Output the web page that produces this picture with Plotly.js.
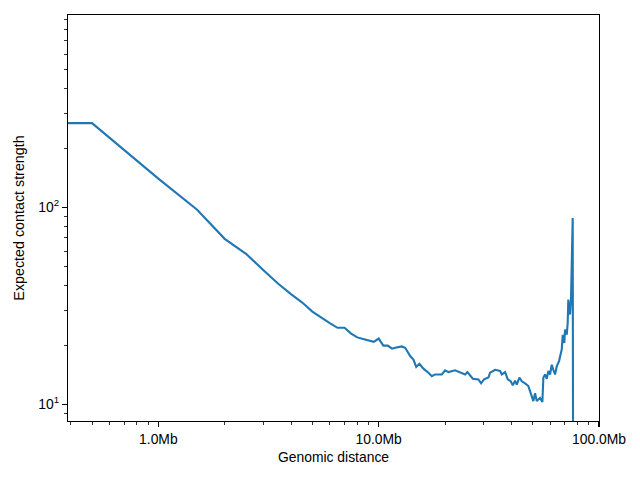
<!DOCTYPE html>
<html>
<head>
<meta charset="utf-8">
<script src="https://cdn.plot.ly/plotly-3.0.1.min.js"></script>
<style>html,body{margin:0;padding:0;background:#fff;}#chart{width:640px;height:480px;}</style>
</head>
<body>
<div id="chart"></div>
<script>
// Genomic distance (Mb)
var distanceMb = [0.3, 0.5, 1.0, 1.5, 2.0, 2.5, 3.0, 3.5, 4.0, 4.5, 5.0, 5.5, 6.0, 6.5, 7.0, 7.5, 8.0, 8.5, 9.0, 9.5, 10.0, 10.5, 11.0, 11.5,
  11.88, 12.74, 13.19, 13.90, 14.38, 14.80, 15.31, 15.97, 16.82, 17.43, 18.04, 19.35, 20.03, 20.73, 22.23, 23.42, 24.69, 25.28, 26.00, 26.75,
  28.36, 29.17, 30.09, 31.48, 32.04, 33.75, 35.56, 36.20, 37.48, 38.54, 39.77, 40.61, 41.59, 42.35, 43.51, 44.62, 46.18, 47.80, 49.53, 50.35,
  51.27, 52.19, 54.01, 55.34, 55.91, 56.91, 57.92, 58.90, 59.95, 61.03, 62.04, 63.17, 64.30, 65.86, 67.74, 68.45, 69.60, 70.11, 71.37, 72.11,
  72.56, 73.86, 74.64, 75.97, 76.45];
// Expected contact strength
var expected = [268, 268, 140, 97.3, 69.3, 58.2, 48.0, 41.0, 36.3, 32.9, 29.6, 27.5, 25.9, 24.5, 24.5, 22.9, 21.9, 21.5, 21.1, 20.8, 21.6, 19.9, 19.9, 19.2,
  19.4, 19.7, 19.4, 17.6, 16.9, 15.5, 16.1, 15.2, 14.5, 13.9, 14.2, 14.2, 14.9, 14.6, 14.9, 14.6, 14.2, 14.6, 14.0, 13.5,
  13.4, 12.8, 13.4, 13.7, 14.5, 15.0, 14.8, 14.2, 14.6, 13.4, 13.1, 12.5, 13.2, 12.6, 13.7, 13.1, 12.8, 12.4, 11.0, 10.4,
  11.4, 10.4, 10.8, 10.3, 13.7, 14.2, 13.5, 14.8, 14.2, 15.9, 15.0, 14.2, 15.6, 16.6, 19.0, 22.6, 20.5, 24.0, 22.6, 25.9,
  34.1, 28.6, 34.1, 88.4, 1];

var xTickVals = [1, 10, 100];
var xTickText = ['1.0Mb', '10.0Mb', '100.0Mb'];
var xMinorVals = [0.4, 0.5, 0.6, 0.7, 0.8, 0.9, 2, 3, 4, 5, 6, 7, 8, 9, 20, 30, 40, 50, 60, 70, 80, 90];
var yTickVals = [10, 100];
var yTickText = ['10<sup>1</sup>', '10<sup>2</sup>'];
var yMinorVals = [9, 20, 30, 40, 50, 60, 70, 80, 90, 200, 300, 400, 500, 600, 700, 800, 900];

var font = {family: 'Liberation Sans, Arial, sans-serif', size: 13.9, color: '#000'};
var yTitleFont = {family: 'Liberation Sans, Arial, sans-serif', size: 14.3, color: '#000'};

var trace = {
  x: distanceMb, y: expected, type: 'scatter', mode: 'lines',
  line: {color: '#1f77b4', width: 2.1}, hoverinfo: 'skip'
};

var layout = {
  width: 640, height: 480,
  margin: {l: 68, r: 41, t: 15, b: 58.5, pad: 0},
  paper_bgcolor: '#fff', plot_bgcolor: '#fff',
  showlegend: false,
  font: font,
  xaxis: {
    type: 'log', range: [Math.log10(0.389), 2],
    tickmode: 'array', tickvals: xTickVals, ticktext: xTickText,
    ticks: 'outside', ticklen: 4.9, tickwidth: 1.1, tickcolor: '#000',
    minor: {tickmode: 'array', tickvals: xMinorVals, ticks: 'outside', ticklen: 2.8, tickwidth: 0.8, tickcolor: '#000', showgrid: false},
    showline: true, linecolor: '#000', linewidth: 1.1, mirror: true,
    showgrid: false, zeroline: false, automargin: false,
    tickfont: font,
    title: {text: 'Genomic distance', font: font, standoff: 6}
  },
  yaxis: {
    type: 'log', range: [0.916, 2.977],
    tickmode: 'array', tickvals: yTickVals, ticktext: yTickText,
    ticks: 'outside', ticklen: 4.9, tickwidth: 1.1, tickcolor: '#000',
    minor: {tickmode: 'array', tickvals: yMinorVals, ticks: 'outside', ticklen: 2.8, tickwidth: 0.8, tickcolor: '#000', showgrid: false},
    showline: true, linecolor: '#000', linewidth: 1.1, mirror: true,
    showgrid: false, zeroline: false, automargin: false,
    tickfont: font,
    title: {text: 'Expected contact strength', font: yTitleFont, standoff: 10}
  }
};

Plotly.newPlot('chart', [trace], layout, {staticPlot: true, displayModeBar: false});
</script>
</body>
</html>
